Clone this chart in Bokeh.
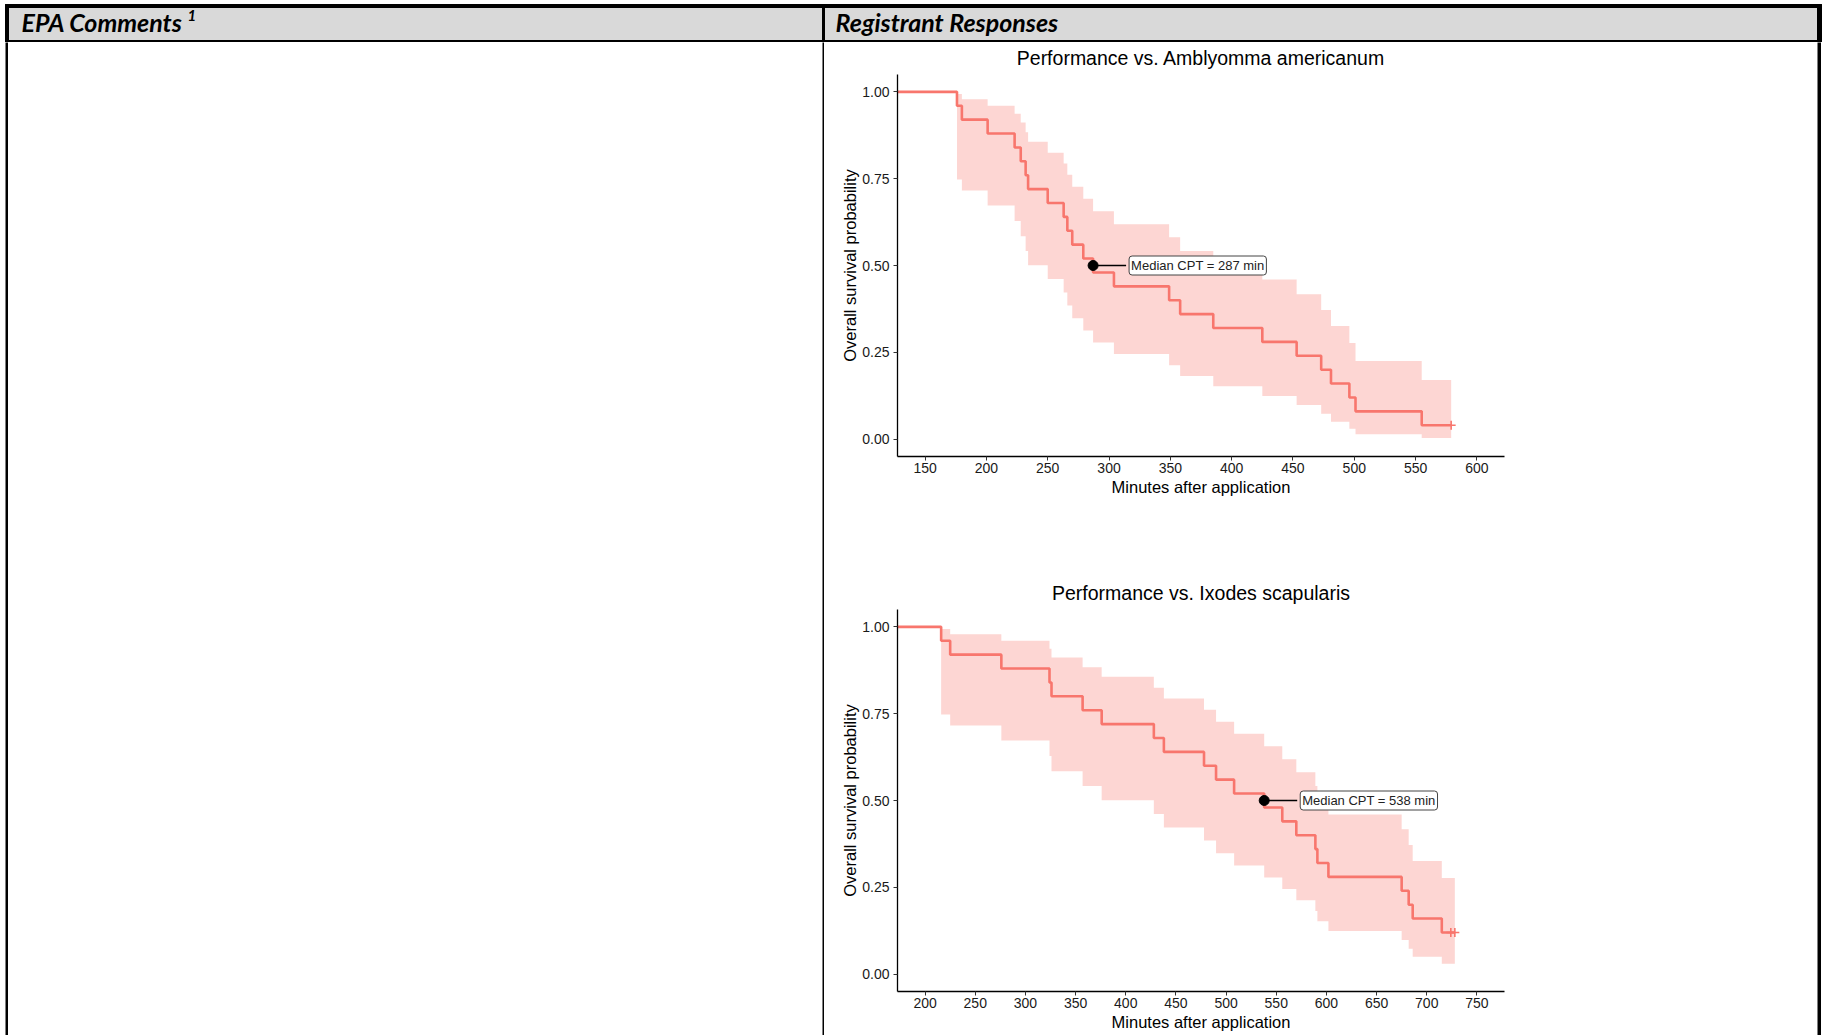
from bokeh.plotting import figure
from bokeh.layouts import column, row
from bokeh.models import Range1d, FixedTicker, NumeralTickFormatter, Label, ColumnDataSource, Spacer
from bokeh.core.properties import value
from bokeh.embed import file_html
from bokeh.resources import INLINE

# ---------------- data ----------------
header_labels = ["EPA Comments", "Registrant Responses"]
header_footnote = "1"

x_label = "Minutes after application"
y_label = "Overall survival probability"
y_ticks = [0.0, 0.25, 0.5, 0.75, 1.0]

amb_title = "Performance vs. Amblyomma americanum"
amb_x_ticks = [150, 200, 250, 300, 350, 400, 450, 500, 550, 600]
amb_time = [0, 176, 180, 201, 223, 228, 232, 234, 250, 263, 266, 270, 279, 287,
            304, 349, 358, 385, 425, 453, 473, 481, 496, 501, 555, 579]
amb_surv = [1.00, 0.96, 0.92, 0.88, 0.84, 0.80, 0.76, 0.72, 0.68, 0.64, 0.60, 0.56, 0.52,
            0.48, 0.44, 0.40, 0.36, 0.32, 0.28, 0.24, 0.20, 0.16, 0.12, 0.08, 0.04, 0.04]
amb_upper = [1.00, 0.994, 0.979, 0.960, 0.937, 0.912, 0.884, 0.856, 0.825, 0.794, 0.761, 0.727,
             0.692, 0.656, 0.619, 0.581, 0.542, 0.502, 0.460, 0.417, 0.372, 0.326, 0.277,
             0.225, 0.170, 0.170]
amb_lower = [1.00, 0.748, 0.716, 0.673, 0.628, 0.584, 0.542, 0.501, 0.461, 0.422, 0.385, 0.348,
             0.313, 0.278, 0.245, 0.213, 0.182, 0.152, 0.124, 0.098, 0.073, 0.050, 0.030,
             0.014, 0.003, 0.003]
amb_censor_time = [579]
amb_censor_surv = [0.04]
amb_median = 287

ixo_title = "Performance vs. Ixodes scapularis"
ixo_x_ticks = [200, 250, 300, 350, 400, 450, 500, 550, 600, 650, 700, 750]
ixo_time = [0, 216, 225, 276, 324, 326, 357, 376, 428, 438, 478, 490, 508, 538,
            556, 570, 589, 591, 602, 675, 682, 686, 715, 728]
ixo_surv = [1.00, 0.96, 0.92, 0.88, 0.84, 0.80, 0.76, 0.72, 0.68, 0.64, 0.60, 0.56, 0.52,
            0.48, 0.44, 0.40, 0.36, 0.32, 0.28, 0.24, 0.20, 0.16, 0.12, 0.12]
ixo_upper = [1.00, 0.994, 0.979, 0.960, 0.937, 0.912, 0.884, 0.856, 0.825, 0.794, 0.761, 0.727,
             0.692, 0.656, 0.619, 0.581, 0.542, 0.502, 0.460, 0.417, 0.372, 0.326, 0.277, 0.277]
ixo_lower = [1.00, 0.748, 0.716, 0.673, 0.628, 0.584, 0.542, 0.501, 0.461, 0.422, 0.385, 0.348,
             0.313, 0.278, 0.245, 0.213, 0.182, 0.152, 0.124, 0.098, 0.073, 0.050, 0.030, 0.030]
ixo_censor_time = [724, 728]
ixo_censor_surv = [0.12, 0.12]
ixo_median = 538

# ---------------- styling / layout ----------------
RED = "#F8766D"
FONT = "Liberation Sans"
HEADER_FONT = "Lato"
GRAY = "#D9D9D9"

PAGE_W = 1822
HEADER_H = 42
BODY_H = 993
CHART_W = 993


def bar_fig(width, height, color="black"):
    f = figure(width=width, height=height, output_backend="svg", toolbar_location=None,
               x_axis_type=None, y_axis_type=None, min_border=0)
    f.background_fill_color = color
    f.border_fill_color = color
    f.outline_line_color = None
    f.grid.visible = False
    return f


def header():
    h = figure(width=PAGE_W, height=HEADER_H, output_backend="svg", toolbar_location=None,
               x_range=Range1d(0, PAGE_W), y_range=Range1d(HEADER_H, 0),
               x_axis_type=None, y_axis_type=None, min_border=0)
    h.outline_line_color = None
    h.grid.visible = False
    h.background_fill_color = "white"
    h.border_fill_color = "white"
    # shaded header cell and table rules
    h.quad(left=[5], right=[1821], top=[7], bottom=[40], color=GRAY)
    h.quad(left=[5, 5], right=[1821, 1821], top=[4, 40], bottom=[7, 42], color="black")
    h.quad(left=[5, 822, 1817], right=[8, 824, 1821], top=[4, 4, 4],
           bottom=[HEADER_H] * 3, color="black")
    h.text(x=[21, 835], y=[21, 21], text=header_labels,
           text_font=value(HEADER_FONT), text_font_style="bold italic",
           text_font_size="25px", text_baseline="middle", text_color="black")
    h.text(x=[187], y=[15], text=[header_footnote],
           text_font=value(HEADER_FONT), text_font_style="bold italic",
           text_font_size="15px", text_baseline="middle", text_color="black")
    return h


def km_chart(title, time, surv, upper, lower, ctime, csurv, median, xr, xticks,
             height, top, bottom, valign, standoff):
    p = figure(width=CHART_W, height=height, output_backend="svg", toolbar_location=None,
               x_range=Range1d(xr[0], xr[1]), y_range=Range1d(-0.05, 1.05),
               min_border_left=73, min_border_right=313,
               min_border_top=top, min_border_bottom=bottom)
    p.outline_line_color = None
    p.grid.visible = False
    p.background_fill_color = "white"
    p.border_fill_color = "white"

    src = ColumnDataSource(dict(t=time, s=surv, up=upper, lo=lower))
    p.varea_step(x="t", y1="lo", y2="up", step_mode="after", source=src,
                 fill_color=RED, fill_alpha=0.3)
    p.step(x="t", y="s", mode="after", source=src, line_color=RED, line_width=2.6)
    p.scatter(x=ctime, y=csurv, marker="cross", size=9, line_color=RED, line_width=1.6)

    # median annotation
    p.ray(x=[median], y=[0.5], length=33, length_units="screen", angle=0,
          line_color="black", line_width=1.6)
    p.scatter(x=[median], y=[0.5], size=10, fill_color="black", line_color="black")
    p.add_layout(Label(x=median, y=0.5, x_offset=36, text=f"Median CPT = {median} min",
                       text_font=FONT, text_font_size="13px", text_color="#222222",
                       text_align="left", text_baseline="middle",
                       background_fill_color="white", border_line_color="#444444",
                       border_line_width=1, padding=2, border_radius=3))

    p.title.text = title
    p.title.align = "center"
    p.title.vertical_align = valign
    p.title.standoff = standoff
    p.title.text_font = FONT
    p.title.text_font_size = "19.5px"
    p.title.text_font_style = "normal"
    p.title.text_color = "black"

    for ax in (p.xaxis[0], p.yaxis[0]):
        ax.axis_line_color = "black"
        ax.axis_line_width = 1.3
        ax.major_tick_line_color = "#333333"
        ax.major_tick_out = 4
        ax.major_tick_in = 0
        ax.minor_tick_line_color = None
        ax.major_label_text_font = FONT
        ax.major_label_text_font_size = "14px"
        ax.major_label_text_color = "#1a1a1a"
        ax.axis_label_text_font = FONT
        ax.axis_label_text_font_size = "16.5px"
        ax.axis_label_text_font_style = "normal"
        ax.axis_label_text_color = "black"

    p.xaxis.ticker = FixedTicker(ticks=xticks)
    p.xaxis.axis_label = x_label
    p.xaxis.major_label_standoff = 2
    p.xaxis.axis_label_standoff = 2
    p.yaxis.ticker = FixedTicker(ticks=y_ticks)
    p.yaxis.formatter = NumeralTickFormatter(format="0.00")
    p.yaxis.axis_label = y_label
    p.yaxis.major_label_standoff = 4
    p.yaxis.axis_label_standoff = 0
    return p


c1 = km_chart(amb_title, amb_time, amb_surv, amb_upper, amb_lower,
              amb_censor_time, amb_censor_surv, amb_median, (127.5, 622.5), amb_x_ticks,
              height=530, top=32, bottom=116, valign="top", standoff=8)
c2 = km_chart(ixo_title, ixo_time, ixo_surv, ixo_upper, ixo_lower,
              ixo_censor_time, ixo_censor_surv, ixo_median, (172.5, 777.5), ixo_x_ticks,
              height=463, top=37, bottom=44, valign="middle", standoff=10)

charts = column(c1, c2, spacing=0)

body = row(Spacer(width=5, height=BODY_H), bar_fig(3, BODY_H),
           Spacer(width=814, height=BODY_H), bar_fig(2, BODY_H),
           charts, bar_fig(4, BODY_H),
           Spacer(width=1, height=BODY_H), spacing=0)

root = column(header(), body, spacing=0)

open("out.html", "w").write(file_html(root, INLINE))
